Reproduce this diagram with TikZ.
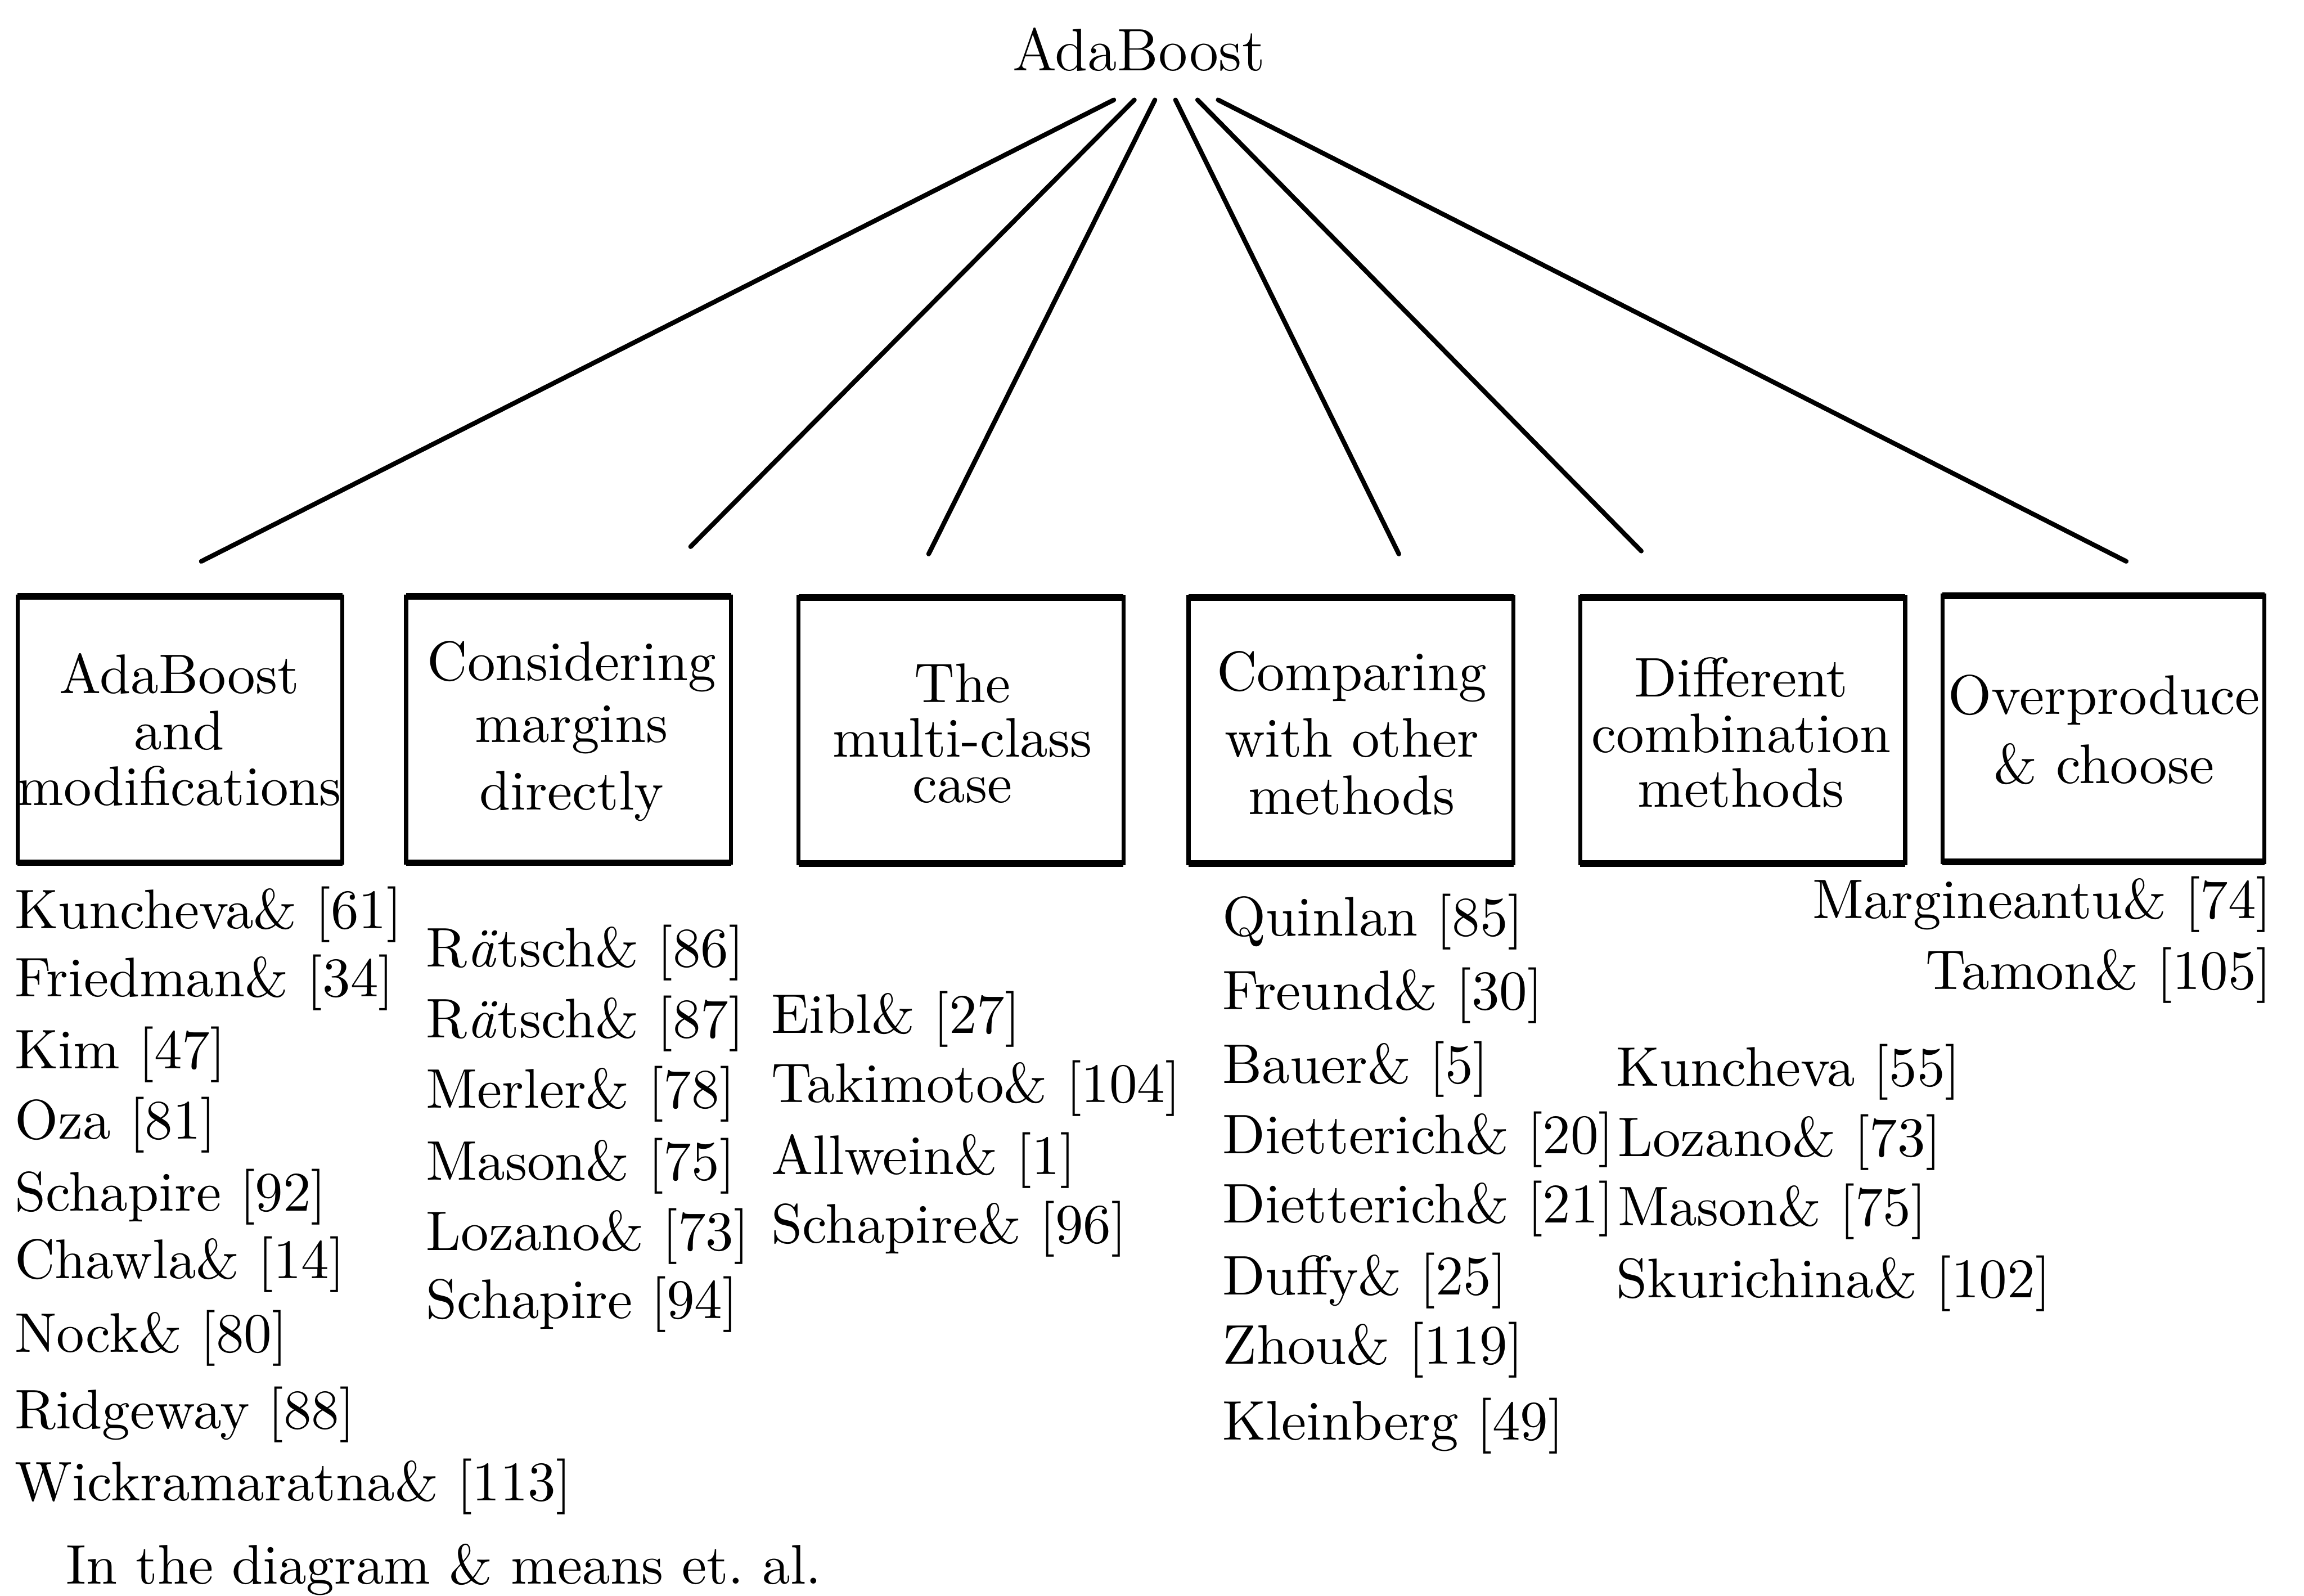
\documentclass[tikz,border=0pt]{standalone}
\begin{document}
\begin{tikzpicture}[x=0.01cm,y=-0.01cm,
  every node/.style={font=\fontsize{10.8}{13}\selectfont, inner sep=0pt, outer sep=0pt},
  rootst/.style={font=\fontsize{11.6}{14}\selectfont},
  boxst/.style={draw, line width=0.8pt, minimum width=2.21cm, minimum height=1.81cm},
  edgest/.style={line width=1.3pt},
  conn/.style={line width=0.9pt, line cap=round},
  bt/.style={anchor=base},
  lt/.style={anchor=base west},
  rt/.style={anchor=base east}]
\useasboundingbox (0,0) rectangle (1568,1086);

% root
\node[rootst, anchor=base] (root) at (775,48) {AdaBoost};

% boxes
\node[boxst] (b1) at (122.5,496.5) {};
\node[boxst] (b2) at (387,496.5) {};
\node[boxst] (b3) at (654,497) {};
\node[boxst] (b4) at (919.5,497) {};
\node[boxst] (b5) at (1186,497) {};
\node[boxst, minimum width=2.19cm] (b6) at (1431.5,496) {};
\foreach \b in {b1,b2,b3,b4,b5,b6}{
  \draw[edgest] (\b.north west) -- (\b.north east);
  \draw[edgest] (\b.south west) -- (\b.south east);
}

% box texts
\node[bt] (b1a) at (122,472) {AdaBoost};
\node[bt] (b1b) at (122,510) {and};
\node[bt] (b1c) at (122,548) {modifications};
\node[bt] (b2a) at (389,463) {Considering};
\node[bt] (b2b) at (389,505) {margins};
\node[bt] (b2c) at (389,551) {directly};
\node[bt] (b3a) at (655,478) {The};
\node[bt] (b3b) at (655,515) {multi-class};
\node[bt] (b3c) at (655,546) {case};
\node[bt] (b4a) at (920,470) {Comparing};
\node[bt] (b4b) at (920,515) {with other};
\node[bt] (b4c) at (920,554) {methods};
\node[bt] (b5a) at (1185,474) {Different};
\node[bt] (b5b) at (1185,512) {combination};
\node[bt] (b5c) at (1185,549) {methods};
\node[bt] (b6a) at (1432,486) {Overproduce};
\node[bt] (b6b) at (1432,533) {\& choose};

% connectors
\coordinate (s1) at (758,68);  \coordinate (e1) at (137,382);
\coordinate (s2) at (772,68);  \coordinate (e2) at (470,372);
\coordinate (s3) at (786,68);  \coordinate (e3) at (632,377);
\coordinate (s4) at (800,68);  \coordinate (e4) at (952,377);
\coordinate (s5) at (815,68);  \coordinate (e5) at (1117,375);
\coordinate (s6) at (829,68);  \coordinate (e6) at (1447,382);
\foreach \i in {1,...,6}{ \draw[conn] (s\i) -- (e\i); }

% column 1
\node[lt] (c1a) at (10,632) {Kuncheva\& [61]};
\node[lt] (c1b) at (10,678) {Friedman\& [34]};
\node[lt] (c1c) at (10,727) {Kim [47]};
\node[lt] (c1d) at (10,775) {Oza [81]};
\node[lt] (c1e) at (10,824) {Schapire [92]};
\node[lt] (c1f) at (10,870) {Chawla\& [14]};
\node[lt] (c1g) at (10,920) {Nock\& [80]};
\node[lt] (c1h) at (10,972) {Ridgeway [88]};
\node[lt] (c1i) at (10,1021) {Wickramaratna\& [113]};

% column 2
\node[lt] (c2a) at (290,658) {R\textit{\"a}tsch\& [86]};
\node[lt] (c2b) at (290,706) {R\textit{\"a}tsch\& [87]};
\node[lt] (c2c) at (290,754) {Merler\& [78]};
\node[lt] (c2d) at (290,803) {Mason\& [75]};
\node[lt] (c2e) at (290,851) {Lozano\& [73]};
\node[lt] (c2f) at (290,897) {Schapire [94]};

% column 3
\node[lt] (c3a) at (525,703) {Eibl\& [27]};
\node[lt] (c3b) at (525,750) {Takimoto\& [104]};
\node[lt] (c3c) at (525,799) {Allwein\& [1]};
\node[lt] (c3d) at (525,846) {Schapire\& [96]};

% column 4
\node[lt] (c4a) at (832,637) {Quinlan [85]};
\node[lt] (c4b) at (832,687) {Freund\& [30]};
\node[lt] (c4c) at (832,737) {Bauer\& [5]};
\node[lt] (c4d) at (832,785) {Dietterich\& [20]};
\node[lt] (c4e) at (832,832) {Dietterich\& [21]};
\node[lt] (c4f) at (832,881) {Duffy\& [25]};
\node[lt] (c4g) at (832,928) {Zhou\& [119]};
\node[lt] (c4h) at (832,980) {Kleinberg [49]};

% column 5
\node[lt] (c5a) at (1100,739) {Kuncheva [55]};
\node[lt] (c5b) at (1101,787) {Lozano\& [73]};
\node[lt] (c5c) at (1101,834) {Mason\& [75]};
\node[lt] (c5d) at (1100,883) {Skurichina\& [102]};

% column 6
\node[rt] (c6a) at (1546,625) {Margineantu\& [74]};
\node[rt] (c6b) at (1546,673) {Tamon\& [105]};

% footnote
\node[lt] (note) at (45,1078) {In the diagram \& means et.\ al.};
\end{tikzpicture}
\end{document}
